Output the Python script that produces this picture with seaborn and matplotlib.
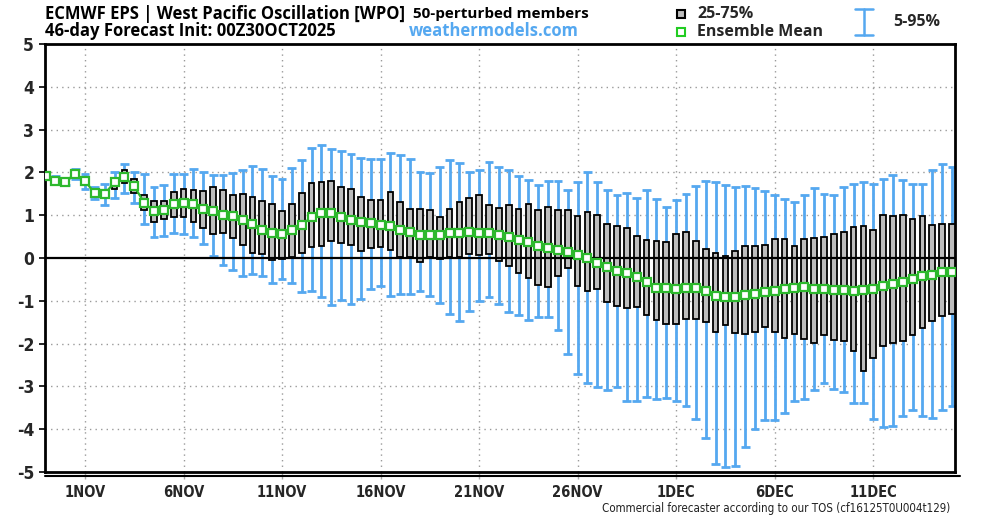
import os
import numpy as np
import pandas as pd
import matplotlib
matplotlib.use("Agg")
import matplotlib.pyplot as plt
import seaborn as sns
from matplotlib import font_manager
from matplotlib.font_manager import FontProperties

# ---------------- data ----------------
steps = list(range(93))  # 12-hourly steps from 00Z 30 OCT 2025
tick_pos = [4, 14, 24, 34, 44, 54, 64, 74, 84]
tick_labels = ["1NOV", "6NOV", "11NOV", "16NOV", "21NOV", "26NOV", "1DEC", "6DEC", "11DEC"]
y_ticks = [5, 4, 3, 2, 1, 0, -1, -2, -3, -4, -5]

ens_mean = [1.91, 1.81, 1.78, 1.97, 1.80, 1.51, 1.50, 1.77, 1.89, 1.68,
            1.29, 1.09, 1.13, 1.27, 1.29, 1.27, 1.15, 1.09, 1.01, 0.97,
            0.88, 0.79, 0.66, 0.59, 0.55, 0.65, 0.77, 0.96, 1.04, 1.04,
            0.96, 0.89, 0.83, 0.82, 0.77, 0.74, 0.65, 0.61, 0.54, 0.54,
            0.53, 0.58, 0.59, 0.61, 0.59, 0.59, 0.54, 0.48, 0.41, 0.37,
            0.28, 0.23, 0.18, 0.13, 0.06, 0.00, -0.12, -0.21, -0.30, -0.34,
            -0.45, -0.57, -0.69, -0.71, -0.72, -0.69, -0.71, -0.77, -0.88, -0.91,
            -0.91, -0.86, -0.84, -0.80, -0.77, -0.72, -0.70, -0.68, -0.72, -0.73,
            -0.75, -0.74, -0.77, -0.74, -0.72, -0.65, -0.60, -0.55, -0.49, -0.43,
            -0.39, -0.33, -0.33]

p25 = [1.88, 1.79, 1.75, 1.93, 1.75, 1.45, 1.42, 1.62, 1.76, 1.52,
       1.11, 0.85, 0.91, 0.96, 0.96, 0.83, 0.70, 0.55, 0.59, 0.46,
       0.31, 0.12, 0.10, -0.04, -0.02, 0.02, 0.12, 0.26, 0.28, 0.39,
       0.36, 0.30, 0.16, 0.23, 0.25, 0.19, 0.03, 0.02, -0.09, 0.03,
       -0.02, 0.02, 0.02, 0.09, 0.06, 0.10, -0.08, -0.19, -0.36, -0.46,
       -0.64, -0.68, -0.42, -0.23, -0.66, -0.76, -0.72, -1.03, -1.13, -1.17,
       -1.14, -1.33, -1.46, -1.55, -1.55, -1.42, -1.42, -1.49, -1.73, -1.57,
       -1.76, -1.78, -1.74, -1.62, -1.74, -1.87, -1.77, -1.89, -1.98, -1.79,
       -1.91, -1.95, -2.18, -2.63, -2.34, -2.05, -1.98, -1.93, -1.80, -1.64,
       -1.47, -1.36, -1.32]

p75 = [1.93, 1.84, 1.81, 2.01, 1.86, 1.56, 1.58, 1.87, 2.05, 1.85,
       1.48, 1.33, 1.34, 1.55, 1.62, 1.59, 1.56, 1.66, 1.58, 1.47,
       1.49, 1.43, 1.34, 1.26, 1.10, 1.26, 1.51, 1.76, 1.78, 1.80,
       1.66, 1.61, 1.42, 1.35, 1.36, 1.55, 1.31, 1.14, 1.14, 1.13,
       0.96, 1.14, 1.31, 1.41, 1.48, 1.25, 1.16, 1.23, 1.14, 1.27,
       1.13, 1.20, 1.12, 1.11, 0.97, 1.08, 1.00, 0.80, 0.75, 0.70,
       0.52, 0.43, 0.39, 0.37, 0.57, 0.61, 0.40, 0.20, 0.11, 0.05,
       0.17, 0.27, 0.29, 0.31, 0.44, 0.44, 0.27, 0.45, 0.47, 0.49,
       0.55, 0.61, 0.73, 0.75, 0.66, 1.01, 0.98, 1.00, 0.91, 0.97,
       0.77, 0.80, 0.80]

p95 = [1.97, 1.91, 1.88, 2.09, 1.97, 1.66, 1.74, 2.00, 2.20, 2.02,
       1.97, 1.66, 1.70, 1.97, 1.97, 2.07, 2.00, 1.95, 1.93, 1.98,
       2.05, 2.16, 2.07, 1.91, 1.84, 2.11, 2.29, 2.58, 2.64, 2.54,
       2.51, 2.44, 2.34, 2.31, 2.32, 2.45, 2.41, 2.31, 2.02, 1.98,
       2.12, 2.29, 2.23, 2.01, 2.05, 2.24, 2.12, 2.05, 1.92, 1.82,
       1.70, 1.80, 1.81, 1.59, 1.77, 2.00, 1.78, 1.59, 1.47, 1.53,
       1.41, 1.59, 1.38, 1.20, 1.36, 1.49, 1.69, 1.80, 1.78, 1.71,
       1.67, 1.69, 1.63, 1.57, 1.47, 1.38, 1.30, 1.47, 1.63, 1.50,
       1.47, 1.67, 1.73, 1.77, 1.73, 1.84, 1.94, 1.83, 1.73, 1.73,
       2.06, 2.19, 2.12]

p5 = [1.85, 1.76, 1.70, 1.85, 1.62, 1.37, 1.24, 1.40, 1.52, 1.29,
      0.80, 0.50, 0.52, 0.59, 0.55, 0.49, 0.32, 0.05, -0.16, -0.28,
      -0.43, -0.38, -0.43, -0.59, -0.48, -0.59, -0.80, -0.78, -0.91, -1.09,
      -0.98, -1.07, -0.95, -0.72, -0.66, -0.89, -0.84, -0.85, -0.76, -0.88,
      -1.05, -1.32, -1.48, -1.24, -1.00, -0.91, -1.07, -1.26, -1.34, -1.44,
      -1.38, -1.39, -1.69, -2.25, -2.70, -2.93, -3.02, -3.09, -3.02, -3.33,
      -3.35, -3.24, -3.30, -3.27, -3.34, -3.45, -3.77, -4.20, -4.82, -4.88,
      -4.86, -4.42, -4.00, -3.78, -3.78, -3.63, -3.35, -3.30, -3.09, -2.92,
      -3.06, -3.13, -3.38, -3.39, -3.76, -3.94, -3.92, -3.70, -3.55, -3.69,
      -3.75, -3.55, -3.45]

df = pd.DataFrame({"step": steps, "mean": ens_mean, "p5": p5, "p25": p25,
                   "p75": p75, "p95": p95})

# ---------------- fonts ----------------
sns.set_theme(style="white")
files = [f.fname for f in font_manager.fontManager.ttflist]


def find_file(patterns):
    for pat in patterns:
        for fn in files:
            if os.path.basename(fn).lower() == pat.lower():
                return fn
    return None


head_file = find_file(["NotoSans-Bold.ttf", "OpenSans-Bold.ttf", "Lato-Bold.ttf",
                       "Roboto-Bold.ttf", "DejaVuSans-Bold.ttf"])
narrow_bold_file = find_file(["LiberationSansNarrow-Bold.ttf", "DejaVuSansCondensed-Bold.ttf",
                              "LiberationSans-Bold.ttf"])
narrow_reg_file = find_file(["LiberationSansNarrow-Regular.ttf", "DejaVuSansCondensed.ttf",
                             "LiberationSans-Regular.ttf"])


def fp(path, size, weight="bold"):
    if path:
        return FontProperties(fname=path, size=size)
    return FontProperties(family="DejaVu Sans", weight=weight, size=size)


plt.rcParams["font.family"] = ["DejaVu Sans"]

BLUE = "#55a8f0"
GREEN = "#2db82d"
GRAY = "#bdbdbd"

fig = plt.figure(figsize=(10, 5.16), dpi=100)
ax = fig.add_axes([0.045, 0.0853, 0.91, 0.8294])

# whiskers (5-95%)
ax.vlines(df["step"], df["p5"], df["p95"], color=BLUE, lw=2, zorder=2)
ax.hlines(df["p5"], df["step"] - 0.45, df["step"] + 0.45, color=BLUE, lw=2, zorder=2)
ax.hlines(df["p95"], df["step"] - 0.45, df["step"] + 0.45, color=BLUE, lw=2, zorder=2)

# boxes (25-75%)
ax.bar(df["step"], df["p75"] - df["p25"], bottom=df["p25"], width=0.58,
       color=GRAY, edgecolor="black", linewidth=1.3, zorder=3)

ax.axhline(0, color="black", lw=1.6, zorder=4)

# ensemble mean
sns.lineplot(data=df, x="step", y="mean", ax=ax, color=GREEN, lw=1.6,
             marker="s", markersize=5.5, markerfacecolor="white",
             markeredgecolor=GREEN, markeredgewidth=1.6, zorder=5)

ax.set_xlim(-0.06, 92.3)
ax.set_ylim(-5, 5)
ax.set_xlabel("")
ax.set_ylabel("")

# grid
for yv in y_ticks:
    if yv not in (0, 5, -5):
        ax.axhline(yv, color="#9a9a9a", lw=1.0, ls=(0, (1, 3)), zorder=1)
for xv in tick_pos:
    ax.axvline(xv, color="#9a9a9a", lw=1.0, ls=(0, (1, 3)), zorder=1)

ax.set_yticks(y_ticks)
ax.set_yticklabels([str(v) for v in y_ticks], fontproperties=fp(narrow_bold_file, 12.5))
ax.set_xticks(tick_pos)
ax.set_xticklabels(tick_labels, fontproperties=fp(narrow_bold_file, 10.5))
ax.tick_params(axis="y", direction="out", length=4.3, width=1.2, color="black",
               pad=3.5, left=True)
ax.tick_params(axis="x", direction="out", length=5, width=1.0, color="#aaaaaa",
               pad=4.5, bottom=True)
for s in ax.spines.values():
    s.set_color("black")
    s.set_linewidth(2)

# secondary line under the bottom spine
ax.plot([0, 1.006], [-0.0095, -0.0095], transform=ax.transAxes, color="black",
        lw=1.5, clip_on=False)

# ---------------- header ----------------
def fx(px):
    return px / 1000.0


def fy(py):
    return 1 - py / 516.0


hf = fp(head_file, 12)
lf = fp(head_file, 11.5)
mf = fp(head_file, 11)
fig.text(fx(45), fy(14), "ECMWF EPS | West Pacific Oscillation [WPO]", fontproperties=hf,
         va="center", ha="left", color="black")
fig.text(fx(413), fy(14), "50-perturbed members", fontproperties=mf,
         va="center", ha="left", color="black")
fig.text(fx(45), fy(31), "46-day Forecast Init: 00Z30OCT2025", fontproperties=hf,
         va="center", ha="left", color="black")
fig.text(fx(409), fy(31), "weathermodels.com", fontproperties=hf,
         va="center", ha="left", color=BLUE)

# legend
fig.patches.append(matplotlib.patches.Rectangle((fx(677), fy(18)), 8 / 1000, 8 / 516,
                   transform=fig.transFigure, facecolor=GRAY, edgecolor="black", lw=1.5))
fig.patches.append(matplotlib.patches.Rectangle((fx(677), fy(36)), 8 / 1000, 8 / 516,
                   transform=fig.transFigure, facecolor="white", edgecolor="#22cc22", lw=1.5))
fig.text(fx(697), fy(14), "25-75%", fontproperties=lf, va="center", ha="left")
fig.text(fx(697), fy(32), "Ensemble Mean", fontproperties=lf, va="center", ha="left")
fig.lines.append(matplotlib.lines.Line2D([fx(864), fx(864)], [fy(9), fy(35)],
                 transform=fig.transFigure, color=BLUE, lw=1.8))
fig.lines.append(matplotlib.lines.Line2D([fx(855), fx(873)], [fy(9), fy(9)],
                 transform=fig.transFigure, color=BLUE, lw=1.8))
fig.lines.append(matplotlib.lines.Line2D([fx(855), fx(873)], [fy(35), fy(35)],
                 transform=fig.transFigure, color=BLUE, lw=1.8))
fig.text(fx(893), fy(22.5), "5-95%", fontproperties=lf, va="center", ha="left")

fig.text(fx(950), fy(508.5), "Commercial forecaster according to our TOS (cf16125T0U004t129)",
         fontproperties=fp(narrow_reg_file, 8.3, "normal"), color="#222222",
         va="center", ha="right")

fig.savefig("out.png", dpi=100)
